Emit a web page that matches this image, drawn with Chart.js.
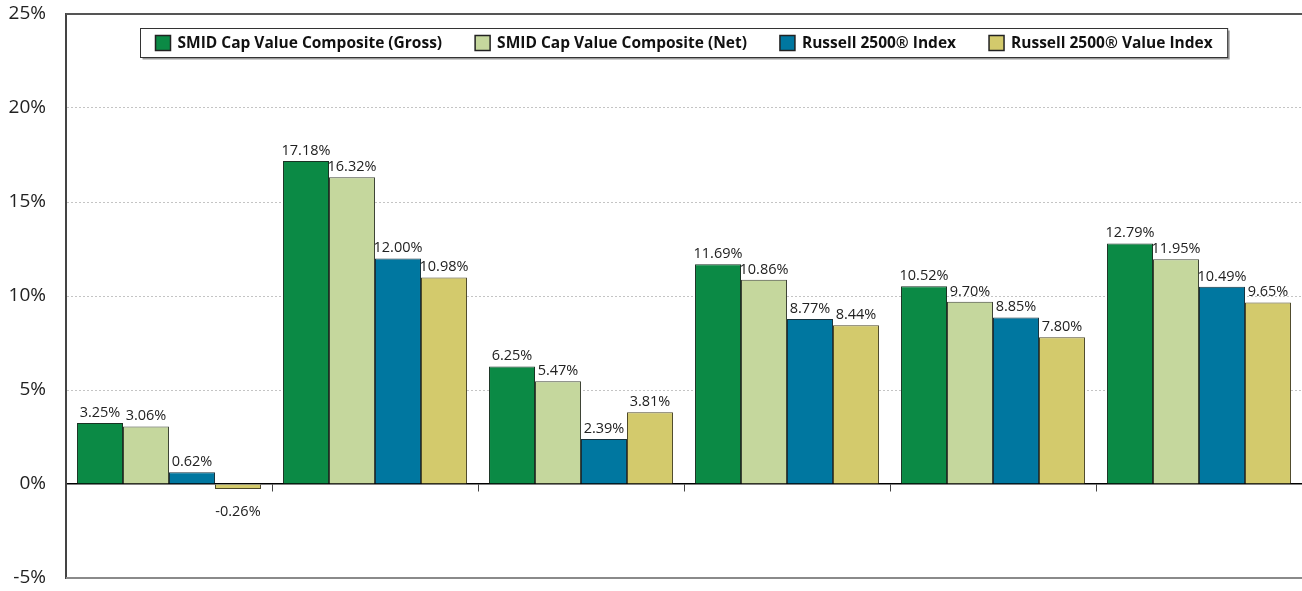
<!DOCTYPE html>
<html>
<head>
<meta charset="utf-8">
<script src="https://cdn.jsdelivr.net/npm/chart.js@4/dist/chart.umd.min.js"></script>
<style>
  html, body { margin: 0; padding: 0; background: #fff; }
  #wrap { width: 1302px; height: 591px; }
</style>
</head>
<body>
<div id="wrap"><canvas id="chart"></canvas></div>
<script>
  // periods (labels are not shown in the picture)
  const categories = ['QTD', 'YTD', '1 Year', '3 Years', '5 Years', '10 Years'];
  const seriesNames = [
    'SMID Cap Value Composite (Gross)',
    'SMID Cap Value Composite (Net)',
    'Russell 2500® Index',
    'Russell 2500® Value Index'
  ];
  const gross = [3.25, 17.18, 6.25, 11.69, 10.52, 12.79];
  const net = [3.06, 16.32, 5.47, 10.86, 9.70, 11.95];
  const r2500 = [0.62, 12.00, 2.39, 8.77, 8.85, 10.49];
  const r2500Value = [-0.26, 10.98, 3.81, 8.44, 7.80, 9.65];
  const yTicks = [-5, 0, 5, 10, 15, 20, 25];

  const colors = ['#0b8a45', '#c5d79d', '#0077a0', '#d3ca6c'];
  const edges = ['#1a3324', '#3e4436', '#15323e', '#4d4828'];

  // value labels above (or below) every bar
  const valueLabels = {
    id: 'valueLabels',
    afterDatasetsDraw(chart) {
      const ctx = chart.ctx;
      ctx.save();
      ctx.font = '14.5px "Open Sans", sans-serif';
      ctx.fillStyle = '#222';
      ctx.textAlign = 'center';
      chart.data.datasets.forEach((ds, i) => {
        chart.getDatasetMeta(i).data.forEach((bar, j) => {
          const v = ds.data[j];
          if (v >= 0) {
            ctx.textBaseline = 'bottom';
            ctx.fillText(v.toFixed(2) + '%', bar.x, bar.y - 3);
          } else {
            ctx.textBaseline = 'top';
            ctx.fillText(v.toFixed(2) + '%', bar.x, bar.y + 16);
          }
        });
      });
      ctx.restore();
    }
  };

  // boxed legend sitting inside the plot area
  const boxLegend = {
    id: 'boxLegend',
    afterDraw(chart) {
      const ctx = chart.ctx;
      const area = chart.chartArea;
      ctx.save();
      ctx.font = 'bold 15.5px "Open Sans", sans-serif';
      const sw = 15, gapText = 7, gapItem = 33, padX = 15;
      const widths = chart.data.datasets.map(ds => sw + gapText + ctx.measureText(ds.label).width);
      const total = widths.reduce((a, b) => a + b, 0) + gapItem * (widths.length - 1);
      const boxW = total + padX * 2, boxH = 29;
      const bx = Math.round((area.left + area.right) / 2 - boxW / 2) + 0.5;
      const by = 28.5;
      ctx.fillStyle = '#9a9a9a';
      ctx.fillRect(bx + 2, by + 2, boxW, boxH);
      ctx.fillStyle = '#fff';
      ctx.fillRect(bx, by, boxW, boxH);
      ctx.strokeStyle = '#333';
      ctx.lineWidth = 1;
      ctx.strokeRect(bx, by, boxW, boxH);
      let x = bx + padX;
      const cy = by + boxH / 2;
      chart.data.datasets.forEach((ds, i) => {
        ctx.fillStyle = ds.backgroundColor;
        ctx.fillRect(x, cy - 7.5, sw, sw);
        ctx.strokeStyle = '#222';
        ctx.lineWidth = 1.5;
        ctx.strokeRect(x, cy - 7.5, sw, sw);
        ctx.fillStyle = '#111';
        ctx.textBaseline = 'middle';
        ctx.textAlign = 'left';
        ctx.fillText(ds.label, x + sw + gapText, cy + 1);
        x += widths[i] + gapItem;
      });
      ctx.restore();
    }
  };

  // top and bottom frame lines of the plot area
  const frame = {
    id: 'frame',
    beforeDatasetsDraw(chart) {
      const {ctx, chartArea: a} = chart;
      ctx.save();
      ctx.lineWidth = 2;
      ctx.strokeStyle = '#555';
      ctx.beginPath();
      ctx.moveTo(a.left, a.top);
      ctx.lineTo(a.right, a.top);
      ctx.stroke();
      ctx.strokeStyle = '#8a8a8a';
      ctx.beginPath();
      ctx.moveTo(a.left, a.bottom);
      ctx.lineTo(a.right, a.bottom);
      ctx.stroke();
      ctx.restore();
    }
  };

  const seriesData = [gross, net, r2500, r2500Value];

  new Chart(document.getElementById('chart'), {
    type: 'bar',
    data: {
      labels: categories,
      datasets: seriesData.map((d, i) => ({
        label: seriesNames[i],
        data: d,
        backgroundColor: colors[i],
        borderColor: edges[i],
        borderWidth: 1,
        categoryPercentage: 0.893,
        barPercentage: 1
      }))
    },
    options: {
      responsive: true,
      maintainAspectRatio: false,
      animation: false,
      layout: { padding: { top: 14, bottom: 13, left: 0, right: 0 } },
      scales: {
        x: {
          position: { y: 0 },
          offset: true,
          ticks: { display: false },
          grid: { offset: true, drawOnChartArea: false, drawTicks: true, tickLength: 7, tickColor: '#444' },
          border: { color: '#000', width: 1.5 }
        },
        y: {
          min: yTicks[0],
          max: yTicks[yTicks.length - 1],
          afterBuildTicks(scale) { scale.ticks = yTicks.map(v => ({ value: v })); },
          afterFit(scale) {
            scale.width = 66;
            scale.paddingTop = 0;
            scale.paddingBottom = 0;
          },
          ticks: {
            padding: 20,
            color: '#222',
            font: { size: 19, family: '"Open Sans", sans-serif' },
            callback: v => v + '%'
          },
          grid: {
            drawTicks: false,
            color: c => (c.tick && c.tick.value > 0 && c.tick.value < 25) ? '#c4c4c4' : 'rgba(0,0,0,0)'
          },
          border: { color: '#444', width: 2, dash: [2, 2] }
        }
      },
      plugins: {
        legend: { display: false },
        tooltip: { enabled: false }
      }
    },
    plugins: [frame, valueLabels, boxLegend]
  });
</script>
</body>
</html>
